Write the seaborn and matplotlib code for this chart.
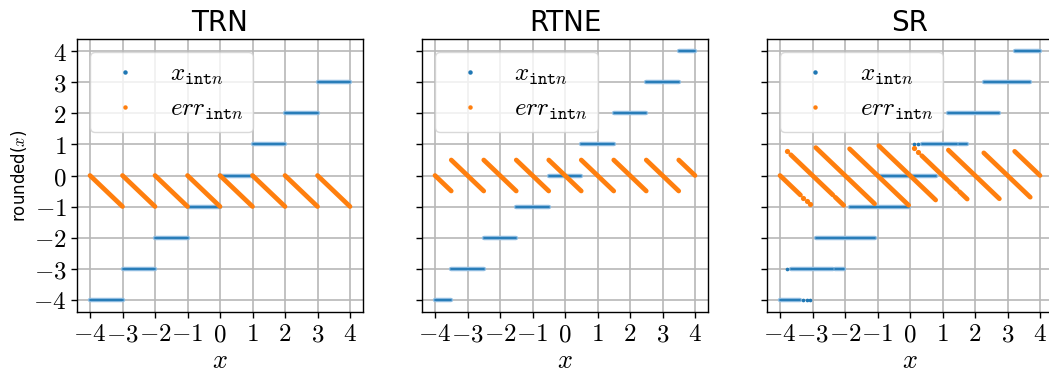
import numpy as np
import pandas as pd
import matplotlib
matplotlib.use("Agg")
import matplotlib.pyplot as plt
import seaborn as sns
from matplotlib.lines import Line2D

# ---------------- data ----------------
titles = ["TRN", "RTNE", "SR"]
xticks = [-4, -3, -2, -1, 0, 1, 2, 3, 4]
yticks = [-4, -3, -2, -1, 0, 1, 2, 3, 4]

# TRN: piecewise constant pieces (x from, x to, rounded value)
trn_lo = [-4, -3, -2, -1, 0, 1, 2, 3]
trn_hi = [-3, -2, -1, 0, 1, 2, 3, 4]
trn_level = [-4, -3, -2, -1, 0, 1, 2, 3]

# RTNE
rtne_lo = [-4.0, -3.5, -2.5, -1.5, -0.5, 0.5, 1.5, 2.5, 3.5]
rtne_hi = [-3.5, -2.5, -1.5, -0.5, 0.5, 1.5, 2.5, 3.5, 4.0]
rtne_level = [-4, -3, -2, -1, 0, 1, 2, 3, 4]

# SR: solid runs of samples
sr_lo = [-4.00, -3.67, -2.30, -2.90, -1.86, -0.96, 0.36, 1.52, 1.18, 2.27, 3.22]
sr_hi = [-3.37, -2.37, -2.04, -1.09, -0.04, 0.79, 1.45, 1.76, 2.75, 3.70, 4.00]
sr_level = [-4, -3, -3, -2, -1, 0, 1, 1, 2, 3, 4]
# SR: isolated samples
sr_dot_x = [-3.29, -3.17, -3.07, -3.80, 0.11, 0.25]
sr_dot_level = [-4, -4, -4, -3, 1, 1]

panels = [
    (trn_lo, trn_hi, trn_level, [], []),
    (rtne_lo, rtne_hi, rtne_level, [], []),
    (sr_lo, sr_hi, sr_level, sr_dot_x, sr_dot_level),
]

BLUE = "#1f77b4"
LBLUE = "#8dbbe0"
ORANGE = "#ff7f0e"

# ---------------- style ----------------
sns.set_theme(style="ticks")
plt.rcParams.update({
    "font.family": ["DejaVu Sans"],
    "mathtext.fontset": "cm",
    "text.color": "black",
    "axes.labelcolor": "black",
    "axes.titlecolor": "black",
    "axes.edgecolor": "black",
    "axes.linewidth": 1.0,
    "xtick.major.size": 4.5,
    "ytick.major.size": 4.5,
    "xtick.major.width": 1.0,
    "ytick.major.width": 1.0,
    "xtick.color": "black",
    "ytick.color": "black",
    "xtick.labelcolor": "black",
    "ytick.labelcolor": "black",
})

W, H = 1049, 374
fig, axes = plt.subplots(1, 3, figsize=(W / 100, H / 100), dpi=100, sharey=True)

lefts = [77, 422, 767]
for ax, lpx in zip(axes, lefts):
    ax.set_position([lpx / W, (H - 312) / H, 286 / W, 273 / H])

for i, (ax, (lo, hi, lev, dx, dl), title) in enumerate(zip(axes, panels, titles)):
    rows_x = []
    rows_e = []
    for k, (a, b, v) in enumerate(zip(lo, hi, lev)):
        rows_x += [dict(x=a, y=v, seg=k), dict(x=b, y=v, seg=k)]
        rows_e += [dict(x=a, y=v - a, seg=k), dict(x=b, y=v - b, seg=k)]
    dfx = pd.DataFrame(rows_x)
    dfe = pd.DataFrame(rows_e)

    ax.grid(True, color="#b8b8b8", linewidth=1.2, zorder=0)
    ax.set_axisbelow(True)

    sns.lineplot(data=dfx, x="x", y="y", units="seg", estimator=None, sort=False,
                 color=LBLUE, linewidth=3.2, legend=False, ax=ax, zorder=3)
    sns.lineplot(data=dfx, x="x", y="y", units="seg", estimator=None, sort=False,
                 color=BLUE, linewidth=1.3, legend=False, ax=ax, zorder=3.1)
    sns.lineplot(data=dfe, x="x", y="y", units="seg", estimator=None, sort=False,
                 color=ORANGE, linewidth=3.4, legend=False, ax=ax, zorder=4)
    if dx:
        dots = pd.DataFrame(dict(x=dx, lev=dl))
        dots["err"] = dots["lev"] - dots["x"]
        sns.scatterplot(data=dots, x="x", y="lev", color=BLUE, s=7, linewidth=0,
                        legend=False, ax=ax, zorder=3.2)
        sns.scatterplot(data=dots, x="x", y="err", color=ORANGE, s=14, linewidth=0,
                        legend=False, ax=ax, zorder=4.1)

    ax.set_xticks(xticks)
    ax.set_xticklabels([f"${t}$" for t in xticks], fontsize=18)
    ax.set_yticks(yticks)
    if i == 0:
        ax.set_yticklabels([f"${t}$" for t in yticks], fontsize=18)
        ax.set_ylabel(r"rounded($x$)", fontsize=12, labelpad=3)
    else:
        ax.set_ylabel("")
    ax.tick_params(axis="y", labelleft=(i == 0), pad=3)
    ax.tick_params(axis="x", pad=3)
    ax.set_xlabel(r"$x$", fontsize=19, labelpad=1)
    ax.set_title(title, fontsize=20, pad=6)
    ax.margins(0.05)

    handles = [
        Line2D([], [], linestyle="none", marker="o", markersize=2.2, color=BLUE),
        Line2D([], [], linestyle="none", marker="o", markersize=2.2, color=ORANGE),
    ]
    ax.legend(handles, [r"$x_{\mathtt{int}n}$", r"$err_{\mathtt{int}n}$"],
              loc="upper left", fontsize=18, frameon=True, framealpha=0.8,
              edgecolor="#d0d0d0", fancybox=True, labelspacing=0.4,
              handlelength=2.0, handletextpad=0.8, borderpad=0.4)

fig.savefig("out.png", dpi=100)
